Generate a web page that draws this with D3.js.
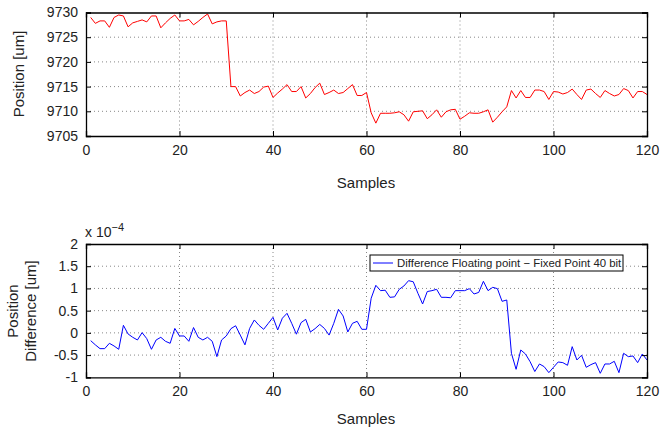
<!DOCTYPE html>
<html>
<head>
<meta charset="utf-8">
<script src="https://cdn.jsdelivr.net/npm/d3@7"></script>
<style>
  body { margin: 0; background: #fff; }
  text { font-family: "Liberation Sans", Arial, sans-serif; fill: #222; }
</style>
</head>
<body>
<svg id="chart" width="660" height="433"></svg>
<script>
// sample numbers 1..120
var samples = d3.range(1, 121);

// top plot: position in um
var position = [
  9729.0, 9727.8, 9728.3, 9728.3, 9727.0, 9729.0, 9729.5, 9729.3, 9727.1, 9727.9,
  9728.2, 9728.5, 9728.1, 9729.3, 9729.3, 9726.9, 9727.9, 9728.8, 9729.5, 9728.3,
  9728.3, 9728.6, 9727.5, 9728.2, 9729.0, 9729.7, 9727.7, 9728.1, 9728.3, 9728.3,
  9715.0, 9715.0, 9713.1, 9713.8, 9714.3, 9713.6, 9714.0, 9714.9, 9715.1, 9712.8,
  9713.7, 9714.5, 9715.4, 9714.0, 9714.0, 9715.0, 9712.7, 9713.6, 9714.8, 9715.7,
  9713.4, 9713.8, 9714.3, 9713.6, 9713.8, 9714.6, 9715.4, 9713.2, 9713.2, 9713.8,
  9709.7, 9707.6, 9709.6, 9709.6, 9709.6, 9709.7, 9709.9, 9709.3, 9708.0, 9709.9,
  9710.0, 9710.1, 9708.5, 9709.3, 9710.3, 9708.8, 9709.9, 9710.3, 9710.4, 9708.4,
  9709.0, 9709.7, 9709.6, 9709.6, 9709.9, 9710.3, 9707.8, 9708.8, 9709.9, 9710.9,
  9714.2, 9712.7, 9714.2, 9712.8, 9712.8, 9714.3, 9714.3, 9714.0, 9712.4, 9714.0,
  9713.9, 9713.5, 9713.8, 9714.5, 9713.4, 9712.4, 9714.3, 9714.5, 9713.6, 9712.8,
  9714.2, 9713.6, 9713.1, 9713.4, 9714.6, 9714.2, 9712.7, 9714.0, 9714.0, 9713.4
];

// bottom plot: difference, in units of 1e-4 um
var difference = [
  -0.175, -0.27, -0.355, -0.355, -0.235, -0.295, -0.37, 0.17, -0.025, -0.10,
  -0.16, 0.005, -0.13, -0.37, -0.16, -0.10, -0.19, -0.235, 0.10, -0.07,
  -0.07, -0.19, 0.12, -0.10, -0.16, -0.10, -0.19, -0.535, -0.16, -0.07,
  0.095, 0.16, -0.05, -0.27, 0.10, 0.29, 0.17, 0.08, 0.215, 0.35,
  0.065, 0.33, 0.44, 0.215, -0.03, 0.23, 0.305, 0.02, 0.095, 0.19,
  0.10, -0.05, 0.215, 0.53, 0.38, 0.02, 0.215, 0.26, 0.08, 0.08,
  0.78, 1.07, 0.95, 0.96, 0.80, 0.81, 0.98, 1.055, 1.175, 1.15,
  0.89, 0.65, 0.93, 0.95, 0.98, 0.80, 0.80, 0.79, 0.95, 0.95,
  0.95, 0.995, 0.875, 0.91, 1.16, 0.95, 1.025, 0.995, 0.71, 0.74,
  -0.46, -0.82, -0.385, -0.475, -0.65, -0.87, -0.70, -0.76, -0.895, -0.775,
  -0.655, -0.67, -0.73, -0.31, -0.61, -0.505, -0.775, -0.715, -0.67, -0.91,
  -0.70, -0.70, -0.64, -0.895, -0.46, -0.535, -0.52, -0.67, -0.475, -0.61
];

var xTicks = [0, 20, 40, 60, 80, 100, 120];
var topTicks = [9705, 9710, 9715, 9720, 9725, 9730];
var bottomTicks = [-1, -0.5, 0, 0.5, 1, 1.5, 2];
var legendLabel = "Difference Floating point \u2212 Fixed Point 40 bit";

var svg = d3.select("#chart");
var left = 86, right = 647;

// draws one axes box with grid, ticks and line
function drawPanel(top, bottom, yDomain, yTicks, yFormat, values, color) {
  var x = d3.scaleLinear().domain([0, 120]).range([left, right]);
  var y = d3.scaleLinear().domain(yDomain).range([bottom, top]);
  var g = svg.append("g");

  // dotted grid
  g.selectAll(".vgrid").data(xTicks.slice(1, -1)).enter().append("line")
    .attr("x1", d => x(d)).attr("x2", d => x(d))
    .attr("y1", top).attr("y2", bottom)
    .attr("stroke", "#888").attr("stroke-width", 1)
    .attr("stroke-dasharray", "1,3");
  g.selectAll(".hgrid").data(yTicks.slice(1, -1)).enter().append("line")
    .attr("x1", left).attr("x2", right)
    .attr("y1", d => y(d)).attr("y2", d => y(d))
    .attr("stroke", "#888").attr("stroke-width", 1)
    .attr("stroke-dasharray", "1,3");

  // the line
  var line = d3.line().x((d, i) => x(samples[i])).y(d => y(d));
  g.append("path").datum(values)
    .attr("d", line)
    .attr("fill", "none")
    .attr("stroke", color)
    .attr("stroke-width", 1);

  // axes, ticks drawn inward
  var xAxis = d3.axisBottom(x).tickValues(xTicks).tickSize(-5).tickPadding(9);
  var yAxis = d3.axisLeft(y).tickValues(yTicks).tickSize(-5).tickPadding(8).tickFormat(yFormat);
  var xTop = d3.axisTop(x).tickValues(xTicks).tickSize(-5).tickFormat("");
  var yRight = d3.axisRight(y).tickValues(yTicks).tickSize(-5).tickFormat("");

  var ax = g.append("g").attr("transform", "translate(0," + bottom + ")").call(xAxis);
  var ay = g.append("g").attr("transform", "translate(" + left + ",0)").call(yAxis);
  var at = g.append("g").attr("transform", "translate(0," + top + ")").call(xTop);
  var ar = g.append("g").attr("transform", "translate(" + right + ",0)").call(yRight);
  [ax, ay, at, ar].forEach(function(a) {
    a.select(".domain").attr("stroke", "#000").attr("stroke-width", 1.3);
    a.selectAll(".tick line").attr("stroke", "#000");
    a.selectAll("text").style("font-size", "14px").attr("fill", "#222")
      .style("font-family", "'Liberation Sans', Arial, sans-serif");
  });
  return {x: x, y: y};
}

var p1 = drawPanel(12.5, 136, [9705, 9730], topTicks, d3.format("d"), position, "#ff0000");
var p2 = drawPanel(244, 377.3, [-1, 2], bottomTicks, d => String(d), difference, "#0000ff");

// axis labels
svg.append("text").attr("x", 366).attr("y", 188).attr("text-anchor", "middle")
  .style("font-size", "15px").text("Samples");
svg.append("text").attr("x", 366).attr("y", 424).attr("text-anchor", "middle")
  .style("font-size", "15px").text("Samples");
svg.append("text").attr("transform", "translate(24,74) rotate(-90)")
  .attr("text-anchor", "middle").style("font-size", "15px").text("Position [um]");
svg.append("text").attr("transform", "translate(18,311) rotate(-90)")
  .attr("text-anchor", "middle").style("font-size", "15px").text("Position");
svg.append("text").attr("transform", "translate(36,311) rotate(-90)")
  .attr("text-anchor", "middle").style("font-size", "15px").text("Difference [um]");

// exponent label
var ex = svg.append("text").attr("x", 85).attr("y", 237).style("font-size", "14px");
ex.append("tspan").text("x 10");
ex.append("tspan").attr("dy", -6).style("font-size", "11px").text("\u22124");

// legend
var lg = svg.append("g");
lg.append("rect").attr("x", 370).attr("y", 255).attr("width", 253).attr("height", 16)
  .attr("fill", "#fff").attr("stroke", "#000").attr("stroke-width", 1);
lg.append("line").attr("x1", 373).attr("x2", 393).attr("y1", 263).attr("y2", 263)
  .attr("stroke", "#0000ff").attr("stroke-width", 1);
lg.append("text").attr("x", 397).attr("y", 267).style("font-size", "11.4px").text(legendLabel);
</script>
</body>
</html>
